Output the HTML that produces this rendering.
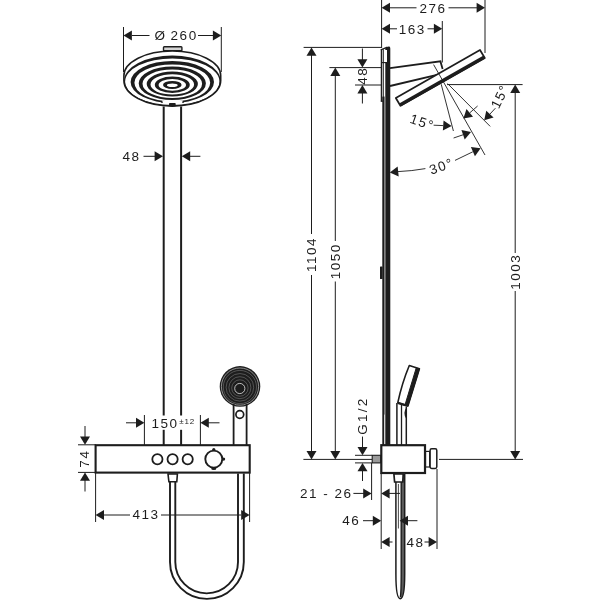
<!DOCTYPE html>
<html><head><meta charset="utf-8"><title>Shower system dimensional drawing</title>
<style>
html,body{margin:0;padding:0;background:#fff;}
body{width:600px;height:600px;overflow:hidden;}
svg{display:block;filter:grayscale(1);}
svg text{font-family:"Liberation Sans","DejaVu Sans",sans-serif;fill:#1d1d1b;}
</style></head><body>
<svg width="600" height="600" viewBox="0 0 600 600">
<rect width="600" height="600" fill="#fff"/>
<rect x="163.5" y="46.8" width="18.4" height="4" rx="0.8" fill="#d4d4d4" stroke="#1d1d1b" stroke-width="1.4"/>
<path d="M123.9,75.5 A48.4,24.5 0 0 1 220.70000000000002,75.5 L220.70000000000002,80.6 A48.4,25.5 0 0 1 123.9,80.6 Z" fill="#fff" stroke="#1d1d1b" stroke-width="1.6"/>
<path d="M124.00,80.90 A48.30,25.30 0 1 0 220.60,80.90 A48.30,25.30 0 1 0 124.00,80.90 Z M125.10,81.75 A47.20,23.25 0 1 0 219.50,81.75 A47.20,23.25 0 1 0 125.10,81.75 Z" fill="#1d1d1b" fill-rule="evenodd"/>
<path d="M130.60,82.00 A41.70,21.00 0 1 0 214.00,82.00 A41.70,21.00 0 1 0 130.60,82.00 Z M134.40,82.85 A37.90,18.45 0 1 0 210.20,82.85 A37.90,18.45 0 1 0 134.40,82.85 Z" fill="#1d1d1b" fill-rule="evenodd"/>
<rect x="162" y="100.6" width="21" height="3.4" fill="#fff"/>
<circle cx="162" cy="102.1" r="0.9" fill="#1d1d1b"/><circle cx="183" cy="102.1" r="0.9" fill="#1d1d1b"/>
<path d="M138.70,83.30 A33.60,16.70 0 1 0 205.90,83.30 A33.60,16.70 0 1 0 138.70,83.30 Z M142.50,83.75 A29.80,14.25 0 1 0 202.10,83.75 A29.80,14.25 0 1 0 142.50,83.75 Z" fill="#1d1d1b" fill-rule="evenodd"/>
<path d="M146.70,84.00 A25.60,12.50 0 1 0 197.90,84.00 A25.60,12.50 0 1 0 146.70,84.00 Z M150.50,84.45 A21.80,10.15 0 1 0 194.10,84.45 A21.80,10.15 0 1 0 150.50,84.45 Z" fill="#1d1d1b" fill-rule="evenodd"/>
<path d="M154.80,84.75 A17.50,8.25 0 1 0 189.80,84.75 A17.50,8.25 0 1 0 154.80,84.75 Z M158.60,84.90 A13.70,5.90 0 1 0 186.00,84.90 A13.70,5.90 0 1 0 158.60,84.90 Z" fill="#1d1d1b" fill-rule="evenodd"/>
<path d="M163.00,84.95 A9.30,4.05 0 1 0 181.60,84.95 A9.30,4.05 0 1 0 163.00,84.95 Z M166.90,85.15 A5.40,1.75 0 1 0 177.70,85.15 A5.40,1.75 0 1 0 166.90,85.15 Z" fill="#1d1d1b" fill-rule="evenodd"/>
<rect x="169" y="103" width="6.7" height="3.2" rx="0.8" fill="#1d1d1b"/>
<line x1="163.7" y1="106.6" x2="163.7" y2="415.5" stroke="#1d1d1b" stroke-width="2" stroke-linecap="butt"/>
<line x1="163.7" y1="429.8" x2="163.7" y2="445" stroke="#1d1d1b" stroke-width="2" stroke-linecap="butt"/>
<line x1="181.1" y1="106.6" x2="181.1" y2="415.5" stroke="#1d1d1b" stroke-width="2" stroke-linecap="butt"/>
<line x1="181.1" y1="429.8" x2="181.1" y2="445" stroke="#1d1d1b" stroke-width="2" stroke-linecap="butt"/>
<line x1="123.5" y1="27" x2="123.5" y2="72" stroke="#1d1d1b" stroke-width="1" stroke-linecap="butt"/>
<line x1="221.3" y1="27" x2="221.3" y2="72" stroke="#1d1d1b" stroke-width="1" stroke-linecap="butt"/>
<polygon points="123.50,35.50 131.90,30.50 131.90,40.50" fill="#1d1d1b"/>
<polygon points="221.30,35.50 212.90,40.50 212.90,30.50" fill="#1d1d1b"/>
<line x1="132" y1="35.5" x2="149.5" y2="35.5" stroke="#1d1d1b" stroke-width="1" stroke-linecap="butt"/>
<line x1="198" y1="35.5" x2="213" y2="35.5" stroke="#1d1d1b" stroke-width="1" stroke-linecap="butt"/>
<text x="154.6" y="40.2" font-size="13.5" letter-spacing="1.5">Ø<tspan dx="4">260</tspan></text>
<text x="131.6" y="161.2" font-size="13.5" letter-spacing="1.5" text-anchor="middle">48</text>
<line x1="143.5" y1="156.3" x2="156" y2="156.3" stroke="#1d1d1b" stroke-width="1" stroke-linecap="butt"/>
<polygon points="163.00,156.30 154.60,161.30 154.60,151.30" fill="#1d1d1b"/>
<polygon points="181.80,156.30 190.20,151.30 190.20,161.30" fill="#1d1d1b"/>
<line x1="189" y1="156.3" x2="200.4" y2="156.3" stroke="#1d1d1b" stroke-width="1" stroke-linecap="butt"/>
<circle cx="240" cy="386.4" r="20.3" fill="#1d1d1b"/>
<circle cx="240" cy="386.6" r="18.6" fill="none" stroke="#d8d8d8" stroke-width="0.6"/>
<circle cx="239.9" cy="387.01" r="16.6" fill="none" stroke="#8a8a8a" stroke-width="0.5"/>
<circle cx="239.9" cy="387.34" r="13.8" fill="none" stroke="#8a8a8a" stroke-width="0.5"/>
<circle cx="239.9" cy="387.68" r="11.0" fill="none" stroke="#8a8a8a" stroke-width="0.5"/>
<circle cx="239.9" cy="388.02" r="8.2" fill="none" stroke="#8a8a8a" stroke-width="0.5"/>
<circle cx="239.8" cy="388.5" r="5.1" fill="none" stroke="#e6e6e6" stroke-width="0.8"/>
<line x1="233.6" y1="404" x2="233.6" y2="445" stroke="#1d1d1b" stroke-width="1.8" stroke-linecap="butt"/>
<line x1="246.6" y1="404" x2="246.6" y2="445" stroke="#1d1d1b" stroke-width="1.8" stroke-linecap="butt"/>
<circle cx="239.8" cy="414.5" r="3.9" fill="#fff" stroke="#1d1d1b" stroke-width="1.7"/>
<rect x="95.6" y="445.2" width="154.1" height="27.4" fill="#fff" stroke="#1d1d1b" stroke-width="2.1"/>
<circle cx="157.4" cy="459.2" r="5.1" fill="none" stroke="#1d1d1b" stroke-width="1.8"/>
<circle cx="172.6" cy="459.2" r="5.1" fill="none" stroke="#1d1d1b" stroke-width="1.8"/>
<circle cx="187.7" cy="459.2" r="5.1" fill="none" stroke="#1d1d1b" stroke-width="1.8"/>
<circle cx="213.8" cy="459.1" r="8.5" fill="none" stroke="#1d1d1b" stroke-width="1.9"/>
<circle cx="213.8" cy="449.6" r="1.6" fill="#1d1d1b"/><ellipse cx="213.8" cy="468.5" rx="2.6" ry="1.5" fill="#1d1d1b"/><circle cx="223.6" cy="459.1" r="1.6" fill="#1d1d1b"/>
<path d="M168,474 L177.4,474 L176.8,481.8 L168.9,481.8 Z" fill="#fff" stroke="#1d1d1b" stroke-width="1.6"/>
<path d="M170,482 L170,562 A36.9,36.9 0 0 0 243.8,562 L243.8,473.6" fill="none" stroke="#1d1d1b" stroke-width="1.9"/>
<path d="M175.3,482 L175.3,562 A31.35,31.35 0 0 0 238,562 L238,473.6" fill="none" stroke="#1d1d1b" stroke-width="1.9"/>
<line x1="144.4" y1="415" x2="144.4" y2="445" stroke="#1d1d1b" stroke-width="1" stroke-linecap="butt"/>
<line x1="200.4" y1="415" x2="200.4" y2="445" stroke="#1d1d1b" stroke-width="1" stroke-linecap="butt"/>
<line x1="126" y1="422.8" x2="137" y2="422.8" stroke="#1d1d1b" stroke-width="1" stroke-linecap="butt"/>
<polygon points="144.40,422.80 136.00,427.80 136.00,417.80" fill="#1d1d1b"/>
<polygon points="200.40,422.80 208.80,417.80 208.80,427.80" fill="#1d1d1b"/>
<line x1="208" y1="422.8" x2="219.5" y2="422.8" stroke="#1d1d1b" stroke-width="1" stroke-linecap="butt"/>
<text x="151.6" y="427.8" font-size="13.5" letter-spacing="1.5">150<tspan font-size="8" dy="-4.2" dx="0.6" letter-spacing="0.8">±12</tspan></text>
<line x1="78" y1="444.8" x2="96" y2="444.8" stroke="#1d1d1b" stroke-width="1" stroke-linecap="butt"/>
<line x1="78" y1="472.4" x2="96" y2="472.4" stroke="#1d1d1b" stroke-width="1" stroke-linecap="butt"/>
<line x1="85" y1="426" x2="85" y2="437" stroke="#1d1d1b" stroke-width="1" stroke-linecap="butt"/>
<polygon points="85.00,444.80 80.00,436.40 90.00,436.40" fill="#1d1d1b"/>
<polygon points="85.00,472.40 90.00,480.80 80.00,480.80" fill="#1d1d1b"/>
<line x1="85" y1="480" x2="85" y2="491.5" stroke="#1d1d1b" stroke-width="1" stroke-linecap="butt"/>
<text x="89.2" y="458.6" font-size="13.5" letter-spacing="1.5" text-anchor="middle" transform="rotate(-90 89.2 458.6)">74</text>
<line x1="95.6" y1="473" x2="95.6" y2="522" stroke="#1d1d1b" stroke-width="1" stroke-linecap="butt"/>
<line x1="249.6" y1="473" x2="249.6" y2="522" stroke="#1d1d1b" stroke-width="1" stroke-linecap="butt"/>
<polygon points="95.60,515.00 104.00,510.00 104.00,520.00" fill="#1d1d1b"/>
<polygon points="249.60,515.00 241.20,520.00 241.20,510.00" fill="#1d1d1b"/>
<line x1="104" y1="515" x2="130" y2="515" stroke="#1d1d1b" stroke-width="1" stroke-linecap="butt"/>
<line x1="161" y1="515" x2="241" y2="515" stroke="#1d1d1b" stroke-width="1" stroke-linecap="butt"/>
<text x="146" y="519.2" font-size="13.5" letter-spacing="1.5" text-anchor="middle">413</text>
<line x1="303.6" y1="47.4" x2="381.6" y2="47.4" stroke="#1d1d1b" stroke-width="1" stroke-linecap="butt"/>
<line x1="329.4" y1="67.6" x2="381.6" y2="67.6" stroke="#1d1d1b" stroke-width="1" stroke-linecap="butt"/>
<line x1="355" y1="85" x2="381.6" y2="85" stroke="#1d1d1b" stroke-width="1" stroke-linecap="butt"/>
<line x1="303.4" y1="459.4" x2="372" y2="459.4" stroke="#1d1d1b" stroke-width="1" stroke-linecap="butt"/>
<line x1="439" y1="459.4" x2="523" y2="459.4" stroke="#1d1d1b" stroke-width="1" stroke-linecap="butt"/>
<line x1="447" y1="84.6" x2="522.6" y2="84.6" stroke="#1d1d1b" stroke-width="1" stroke-linecap="butt"/>
<polygon points="311.50,47.40 316.50,55.80 306.50,55.80" fill="#1d1d1b"/>
<polygon points="311.50,459.40 306.50,451.00 316.50,451.00" fill="#1d1d1b"/>
<line x1="311.5" y1="55" x2="311.5" y2="234" stroke="#1d1d1b" stroke-width="1" stroke-linecap="butt"/>
<line x1="311.5" y1="275" x2="311.5" y2="452" stroke="#1d1d1b" stroke-width="1" stroke-linecap="butt"/>
<text x="316.3" y="254.5" font-size="13.5" letter-spacing="1.5" text-anchor="middle" transform="rotate(-90 316.3 254.5)">1104</text>
<polygon points="335.30,67.60 340.30,76.00 330.30,76.00" fill="#1d1d1b"/>
<polygon points="335.30,459.40 330.30,451.00 340.30,451.00" fill="#1d1d1b"/>
<line x1="335.3" y1="75" x2="335.3" y2="241" stroke="#1d1d1b" stroke-width="1" stroke-linecap="butt"/>
<line x1="335.3" y1="281.5" x2="335.3" y2="452" stroke="#1d1d1b" stroke-width="1" stroke-linecap="butt"/>
<text x="340.2" y="261.2" font-size="13.5" letter-spacing="1.5" text-anchor="middle" transform="rotate(-90 340.2 261.2)">1050</text>
<line x1="362.4" y1="48.5" x2="362.4" y2="60" stroke="#1d1d1b" stroke-width="1" stroke-linecap="butt"/>
<polygon points="362.40,67.60 357.40,59.20 367.40,59.20" fill="#1d1d1b"/>
<polygon points="362.40,85.00 367.40,93.40 357.40,93.40" fill="#1d1d1b"/>
<line x1="362.4" y1="93" x2="362.4" y2="103.5" stroke="#1d1d1b" stroke-width="1" stroke-linecap="butt"/>
<text x="367.2" y="75.8" font-size="13.5" letter-spacing="1.5" text-anchor="middle" transform="rotate(-90 367.2 75.8)">48</text>
<polygon points="515.20,84.60 520.20,93.00 510.20,93.00" fill="#1d1d1b"/>
<polygon points="515.20,459.40 510.20,451.00 520.20,451.00" fill="#1d1d1b"/>
<line x1="515.2" y1="92" x2="515.2" y2="253" stroke="#1d1d1b" stroke-width="1" stroke-linecap="butt"/>
<line x1="515.2" y1="291" x2="515.2" y2="452" stroke="#1d1d1b" stroke-width="1" stroke-linecap="butt"/>
<text x="520" y="271.8" font-size="13.5" letter-spacing="1.5" text-anchor="middle" transform="rotate(-90 520 271.8)">1003</text>
<line x1="381.6" y1="0" x2="381.6" y2="48" stroke="#1d1d1b" stroke-width="1" stroke-linecap="butt"/>
<line x1="485" y1="0" x2="485" y2="53" stroke="#1d1d1b" stroke-width="1" stroke-linecap="butt"/>
<line x1="442.3" y1="21" x2="442.3" y2="62.5" stroke="#1d1d1b" stroke-width="1" stroke-linecap="butt"/>
<polygon points="381.60,7.80 390.00,2.80 390.00,12.80" fill="#1d1d1b"/>
<polygon points="485.00,7.80 476.60,12.80 476.60,2.80" fill="#1d1d1b"/>
<line x1="390" y1="7.8" x2="416.5" y2="7.8" stroke="#1d1d1b" stroke-width="1" stroke-linecap="butt"/>
<line x1="448.5" y1="7.8" x2="477" y2="7.8" stroke="#1d1d1b" stroke-width="1" stroke-linecap="butt"/>
<text x="433" y="12.6" font-size="13.5" letter-spacing="1.5" text-anchor="middle">276</text>
<polygon points="381.60,28.80 390.00,23.80 390.00,33.80" fill="#1d1d1b"/>
<polygon points="442.30,28.80 433.90,33.80 433.90,23.80" fill="#1d1d1b"/>
<line x1="390" y1="28.8" x2="397" y2="28.8" stroke="#1d1d1b" stroke-width="1" stroke-linecap="butt"/>
<line x1="427.5" y1="28.8" x2="434" y2="28.8" stroke="#1d1d1b" stroke-width="1" stroke-linecap="butt"/>
<text x="412.2" y="33.6" font-size="13.5" letter-spacing="1.5" text-anchor="middle">163</text>
<path d="M385.3,445 L385.3,48.2 L387.2,47 Q388.3,46.2 389.4,46.6 Q390.3,47 390.3,48.4 L390.3,445 Z" fill="#1d1d1b"/>
<rect x="385" y="50" width="2" height="12" fill="#fff"/>
<line x1="381.4" y1="49.4" x2="381.4" y2="101.6" stroke="#1d1d1b" stroke-width="1.3" stroke-linecap="butt"/>
<line x1="383.25" y1="49.2" x2="383.25" y2="101.6" stroke="#1d1d1b" stroke-width="1.1" stroke-linecap="butt"/>
<path d="M380.8,49.8 L387.4,47.2" fill="none" stroke="#1d1d1b" stroke-width="1.3"/>
<line x1="380.8" y1="101.2" x2="383.8" y2="101.2" stroke="#1d1d1b" stroke-width="1.1" stroke-linecap="butt"/>
<line x1="382" y1="62.6" x2="387" y2="62.6" stroke="#1d1d1b" stroke-width="1.1" stroke-linecap="butt"/>
<rect x="382.3" y="96.6" width="1.9" height="348.4" fill="#1d1d1b"/>
<rect x="384.2" y="96.6" width="1.1" height="318" fill="#6e6e6e"/>
<rect x="380" y="266.4" width="2.6" height="12.6" rx="0.6" fill="#1d1d1b"/>
<path d="M390,68.1 L440.4,61.3 L442.6,69 M390,86 L437,74.8" fill="none" stroke="#1d1d1b" stroke-width="1.8"/>
<path d="M395.8,98 L480,50 L484.8,58 L400.4,105.8 Z" fill="#fff" stroke="#1d1d1b" stroke-width="1.7" stroke-linejoin="round"/>
<line x1="400.0" y1="104.9" x2="484.4" y2="57.1" stroke="#1d1d1b" stroke-width="3.4" stroke-linecap="butt"/>
<line x1="433.6" y1="64.6" x2="485" y2="155" stroke="#1d1d1b" stroke-width="0.9" stroke-linecap="butt"/>
<line x1="441.2" y1="84.2" x2="453.4" y2="131" stroke="#1d1d1b" stroke-width="0.9" stroke-linecap="butt"/>
<line x1="447.6" y1="83.6" x2="490.2" y2="126.4" stroke="#1d1d1b" stroke-width="0.9" stroke-linecap="butt"/>
<polygon points="451.60,126.00 442.87,130.40 443.57,120.43" fill="#1d1d1b"/>
<line x1="433.6" y1="125.2" x2="443.2" y2="125.6" stroke="#1d1d1b" stroke-width="0.9" stroke-linecap="butt"/>
<polygon points="471.00,132.00 464.69,139.46 461.43,130.01" fill="#1d1d1b"/>
<line x1="453.6" y1="138" x2="463" y2="134.8" stroke="#1d1d1b" stroke-width="0.9" stroke-linecap="butt"/>
<polygon points="480.60,148.20 474.96,156.18 470.89,147.05" fill="#1d1d1b"/>
<line x1="455" y1="160.4" x2="472.8" y2="151.8" stroke="#1d1d1b" stroke-width="0.9" stroke-linecap="butt"/>
<polygon points="463.40,118.40 466.46,109.12 473.02,116.66" fill="#1d1d1b"/>
<line x1="469.8" y1="112.8" x2="477.6" y2="106" stroke="#1d1d1b" stroke-width="0.9" stroke-linecap="butt"/>
<polygon points="484.20,120.20 486.27,110.65 493.59,117.47" fill="#1d1d1b"/>
<line x1="490" y1="114" x2="495.4" y2="108.2" stroke="#1d1d1b" stroke-width="0.9" stroke-linecap="butt"/>
<path d="M398,171.6 Q412,171 425.4,168.6" fill="none" stroke="#1d1d1b" stroke-width="0.9"/>
<polygon points="389.80,172.40 397.63,166.55 398.68,176.49" fill="#1d1d1b"/>
<text x="420.8" y="126.6" font-size="13.5" letter-spacing="1.5" text-anchor="middle" transform="rotate(19 420.8 126.6)">15°</text>
<text x="443" y="170.6" font-size="13.5" letter-spacing="1.5" text-anchor="middle" transform="rotate(-19 443 170.6)">30°</text>
<text x="504.2" y="98.4" font-size="13.5" letter-spacing="1.5" text-anchor="middle" transform="rotate(-64 504.2 98.4)">15°</text>
<path d="M409.3,365.5 L419.4,368.8 L407.9,405.9 L397.8,402.7 Q402,383 409.3,365.5 Z" fill="#fff" stroke="#1d1d1b" stroke-width="1.6" stroke-linejoin="round"/>
<path d="M419.4,368.8 L407.9,405.9 L405.1,404.6 L416.2,368 Z" fill="#1d1d1b" stroke="#1d1d1b" stroke-width="1" stroke-linejoin="round"/>
<line x1="397.8" y1="402.9" x2="407.8" y2="405.9" stroke="#1d1d1b" stroke-width="2.2" stroke-linecap="butt"/>
<line x1="396.9" y1="403" x2="396.9" y2="445" stroke="#1d1d1b" stroke-width="1.5" stroke-linecap="butt"/>
<line x1="401.5" y1="405" x2="401.5" y2="445" stroke="#1d1d1b" stroke-width="1.3" stroke-linecap="butt"/>
<line x1="406.3" y1="407" x2="406.3" y2="445" stroke="#1d1d1b" stroke-width="1.5" stroke-linecap="butt"/>
<path d="M406.3,407.4 Q402.4,413.2 406.3,419 Z" fill="#1d1d1b"/>
<rect x="381.3" y="445.2" width="43.7" height="27.8" fill="#fff" stroke="#1d1d1b" stroke-width="2.2"/>
<rect x="372.2" y="455.3" width="8.4" height="7.6" fill="#9a9a9a" stroke="#1d1d1b" stroke-width="1.1"/>
<rect x="425.6" y="451.4" width="4" height="15.6" fill="#fff" stroke="#1d1d1b" stroke-width="1.2"/>
<rect x="430.1" y="448.8" width="6.7" height="19.6" rx="1.6" fill="#fff" stroke="#1d1d1b" stroke-width="1.5"/>
<path d="M401.2,473.6 L401.2,574 C401.2,586 401.2,592 400.4,597 L400.6,598.7 C404,598.7 404.7,586 404.7,574 L404.7,473.6 Z" fill="#5c5c5c"/>
<path d="M395.9,482 L395.9,574 C395.9,586 396.7,598.7 400.3,598.7 C403.9,598.7 404.7,586 404.7,574 L404.7,473.6" fill="none" stroke="#1d1d1b" stroke-width="1.5"/>
<path d="M401.2,482 L401.2,574 C401.2,586 401.2,592 400.4,597" fill="none" stroke="#1d1d1b" stroke-width="1.4"/>
<line x1="398.4" y1="484" x2="398.4" y2="528.5" stroke="#1d1d1b" stroke-width="0.8" stroke-linecap="butt"/>
<path d="M393.9,474 L403.2,474 L402.8,482 L394.6,482 Z" fill="#fff" stroke="#1d1d1b" stroke-width="1.7"/>
<line x1="355" y1="455.3" x2="372" y2="455.3" stroke="#1d1d1b" stroke-width="1" stroke-linecap="butt"/>
<line x1="355" y1="462.9" x2="372" y2="462.9" stroke="#1d1d1b" stroke-width="1" stroke-linecap="butt"/>
<line x1="362.5" y1="436.6" x2="362.5" y2="448" stroke="#1d1d1b" stroke-width="1" stroke-linecap="butt"/>
<polygon points="362.50,455.30 357.50,446.90 367.50,446.90" fill="#1d1d1b"/>
<polygon points="362.50,462.90 367.50,471.30 357.50,471.30" fill="#1d1d1b"/>
<line x1="362.5" y1="470" x2="362.5" y2="481" stroke="#1d1d1b" stroke-width="1" stroke-linecap="butt"/>
<text x="367.2" y="415.6" font-size="13.5" letter-spacing="2.3" text-anchor="middle" transform="rotate(-90 367.2 415.6)">G1/2</text>
<line x1="371.6" y1="463" x2="371.6" y2="500" stroke="#1d1d1b" stroke-width="1" stroke-linecap="butt"/>
<line x1="381.2" y1="473" x2="381.2" y2="549" stroke="#1d1d1b" stroke-width="1" stroke-linecap="butt"/>
<line x1="437" y1="469" x2="437" y2="549" stroke="#1d1d1b" stroke-width="1" stroke-linecap="butt"/>
<text x="326.2" y="498" font-size="13.5" letter-spacing="1.5" text-anchor="middle">21 - 26</text>
<line x1="353.4" y1="493.4" x2="364" y2="493.4" stroke="#1d1d1b" stroke-width="1" stroke-linecap="butt"/>
<polygon points="371.60,493.40 363.20,498.40 363.20,488.40" fill="#1d1d1b"/>
<polygon points="381.20,493.40 389.60,488.40 389.60,498.40" fill="#1d1d1b"/>
<line x1="389" y1="493.4" x2="400" y2="493.4" stroke="#1d1d1b" stroke-width="1" stroke-linecap="butt"/>
<text x="351.2" y="525.2" font-size="13.5" letter-spacing="1.5" text-anchor="middle">46</text>
<line x1="363" y1="520.7" x2="374" y2="520.7" stroke="#1d1d1b" stroke-width="1" stroke-linecap="butt"/>
<polygon points="381.20,520.70 372.80,525.70 372.80,515.70" fill="#1d1d1b"/>
<polygon points="399.60,520.70 408.00,515.70 408.00,525.70" fill="#1d1d1b"/>
<line x1="407" y1="520.7" x2="417.4" y2="520.7" stroke="#1d1d1b" stroke-width="1" stroke-linecap="butt"/>
<polygon points="381.20,542.00 389.60,537.00 389.60,547.00" fill="#1d1d1b"/>
<line x1="389" y1="542" x2="392.5" y2="542" stroke="#1d1d1b" stroke-width="1" stroke-linecap="butt"/>
<polygon points="437.00,542.00 428.60,547.00 428.60,537.00" fill="#1d1d1b"/>
<line x1="424.5" y1="542" x2="429" y2="542" stroke="#1d1d1b" stroke-width="1" stroke-linecap="butt"/>
<text x="415.6" y="546.8" font-size="13.5" letter-spacing="1.5" text-anchor="middle">48</text>
</svg>
</body></html>
